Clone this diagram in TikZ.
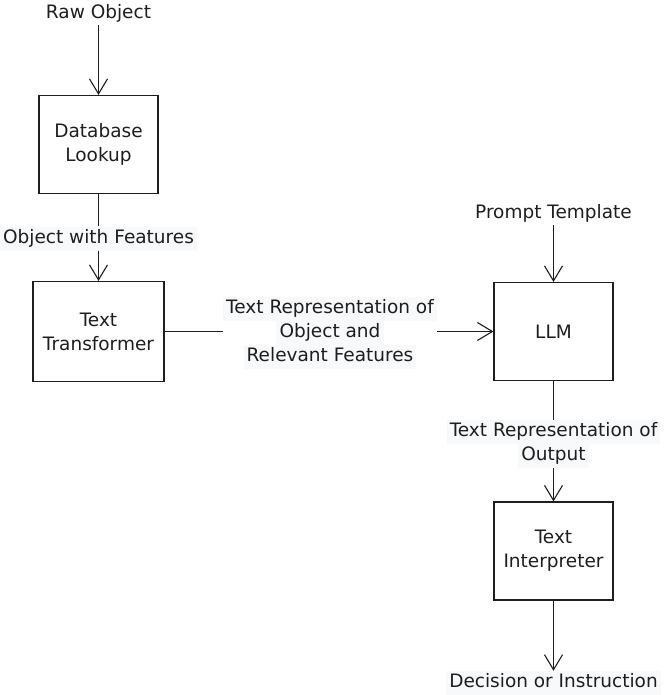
\documentclass[tikz,border=0pt]{standalone}
\usepackage{fontspec}
\setmainfont{DejaVu Sans}
\usetikzlibrary{positioning, arrows.meta}
\definecolor{ink}{HTML}{1E1E1E}
\definecolor{labelbg}{HTML}{F8F9FA}
\newcommand{\bgline}[1]{{\setlength{\fboxsep}{0pt}\colorbox{labelbg}{\strut\,#1\,}}}
\tikzset{
    >={Straight Barb[length=15pt,width=18pt]}, % open v-shaped heads
    flow/.style={draw=ink, line width=1.1pt},
    block/.style={draw=ink, line width=1.1pt, minimum width=119pt, minimum height=98pt, align=center, text=ink},
    tag/.style={inner sep=0pt, align=center, text=ink}, % label sitting on a connector
    caption/.style={text=ink},
}

\begin{document}
\begin{tikzpicture}[x=1pt, y=-1pt, font=\fontsize{18.5}{24}\selectfont]
    \useasboundingbox (0,0) rectangle (665,695);
    \node[caption] (raw) at (98.5,13) {Raw Object};
    \node[block] (db) at (98.5,144.5) {Database\\Lookup};
    \node[tag] (feat) at (98.5,238.5) {\bgline{Object with Features}};
    \node[block, minimum width=131pt, minimum height=100pt] (tt) at (98.5,331.5) {Text\\Transformer};
    \node[tag] (repr) at (330,332.5) {\bgline{Text Representation of}\\\bgline{Object and}\\\bgline{Relevant Features}};
    \node[block] (llm) at (553.5,331.5) {LLM};
    \node[caption] (prompt) at (553.5,213) {Prompt Template};
    \node[tag] (out) at (553.5,444) {\bgline{Text Representation of}\\\bgline{Output}};
    \node[block] (ti) at (553.5,551) {Text\\Interpreter};
    \node[tag] (dec) at (553.5,683) {\bgline{Decision or Instruction}};
    \draw[flow, ->] (raw) -- (db);
    \draw[flow] (db) -- (feat);
    \draw[flow, ->] (feat) -- (tt);
    \draw[flow] (tt) -- (tt -| repr.west);
    \draw[flow, ->] (tt -| repr.east) -- (llm);
    \draw[flow, ->] (prompt) -- (llm);
    \draw[flow] (llm) -- (out);
    \draw[flow, ->] (out) -- (ti);
    \draw[flow, ->] (ti) -- (dec);
\end{tikzpicture}
\end{document}
